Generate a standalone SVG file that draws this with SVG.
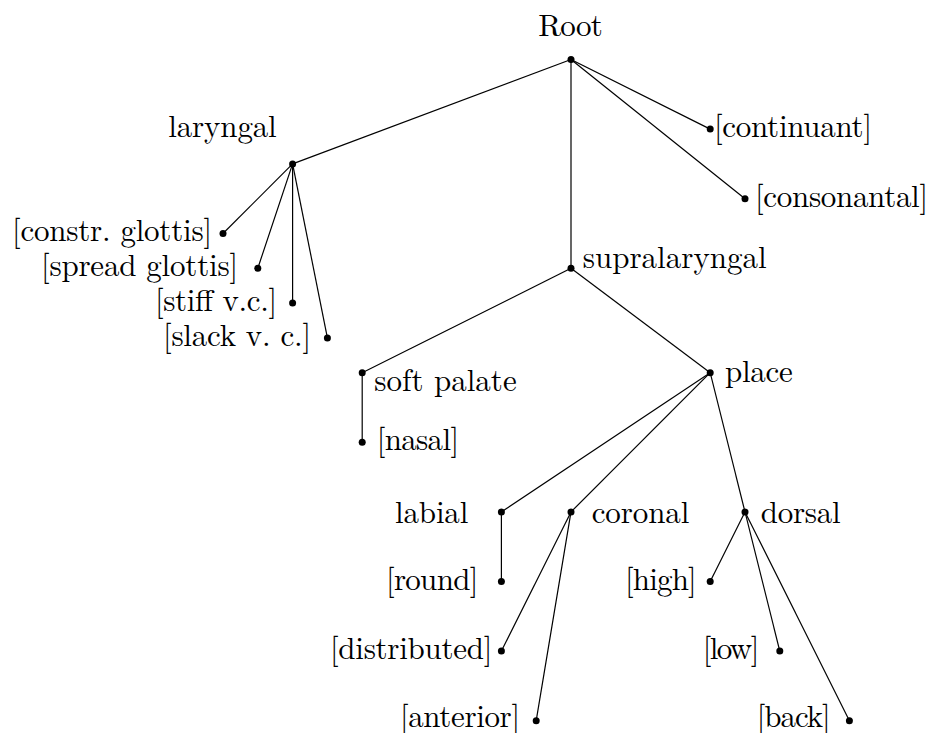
<svg xmlns="http://www.w3.org/2000/svg" width="931" height="733" viewBox="0 0 931 733">
<style>
  .lbl { font-family: 'Latin Modern Roman', 'CMU Serif', 'Computer Modern', 'TeX Gyre Termes', 'Nimbus Roman', 'FreeSerif', 'Noto Serif', 'Liberation Serif', 'DejaVu Serif', 'Times New Roman', serif; font-size: 31px; fill: #000; }
  .dot { fill: #000; }
  #edges line { stroke: #000; stroke-width: 1.2; }
</style>
<rect width="931" height="733" fill="#fff"/>
<g id="edges">
  <line x1="571" y1="59.5" x2="292.6" y2="163.9"/>
  <line x1="571" y1="59.5" x2="571" y2="268.3"/>
  <line x1="571" y1="59.5" x2="710.2" y2="129.1"/>
  <line x1="571" y1="59.5" x2="745" y2="198.7"/>
  <line x1="292.6" y1="163.9" x2="223" y2="233.5"/>
  <line x1="292.6" y1="163.9" x2="257.8" y2="268.3"/>
  <line x1="292.6" y1="163.9" x2="292.6" y2="303.1"/>
  <line x1="292.6" y1="163.9" x2="327.4" y2="337.9"/>
  <line x1="571" y1="268.3" x2="362.2" y2="372.7"/>
  <line x1="571" y1="268.3" x2="710.2" y2="372.7"/>
  <line x1="362.2" y1="372.7" x2="362.2" y2="442.3"/>
  <line x1="710.2" y1="372.7" x2="501.4" y2="511.9"/>
  <line x1="710.2" y1="372.7" x2="571" y2="511.9"/>
  <line x1="710.2" y1="372.7" x2="745" y2="511.9"/>
  <line x1="501.4" y1="511.9" x2="501.4" y2="581.5"/>
  <line x1="571" y1="511.9" x2="501.4" y2="651.1"/>
  <line x1="571" y1="511.9" x2="536.2" y2="720.7"/>
  <line x1="745" y1="511.9" x2="710.2" y2="581.5"/>
  <line x1="745" y1="511.9" x2="779.8" y2="651.1"/>
  <line x1="745" y1="511.9" x2="849.4" y2="720.7"/>
</g>
<g id="root"><circle class="dot" cx="571" cy="59.5" r="3.5"/><text class="lbl" x="538.3" y="36" textLength="64.4">Root</text></g>
<g id="laryngal"><circle class="dot" cx="292.6" cy="163.9" r="3.5"/><text class="lbl" x="168.3" y="137.3" textLength="108.4">laryngal</text></g>
<g id="constr-glottis"><circle class="dot" cx="223" cy="233.5" r="3.5"/><text class="lbl" x="12" y="241" textLength="200">[constr. glottis]</text></g>
<g id="spread-glottis"><circle class="dot" cx="257.8" cy="268.3" r="3.5"/><text class="lbl" x="41" y="276" textLength="197">[spread glottis]</text></g>
<g id="stiff-vc"><circle class="dot" cx="292.6" cy="303.1" r="3.5"/><text class="lbl" x="155" y="311" textLength="122">[stiff v.c.]</text></g>
<g id="slack-vc"><circle class="dot" cx="327.4" cy="337.9" r="3.5"/><text class="lbl" x="163" y="346" textLength="148">[slack v. c.]</text></g>
<g id="continuant"><circle class="dot" cx="710.2" cy="129.1" r="3.5"/><text class="lbl" x="714" y="136.7" textLength="158">[continuant]</text></g>
<g id="consonantal"><circle class="dot" cx="745" cy="198.7" r="3.5"/><text class="lbl" x="755" y="206.7" textLength="173">[consonantal]</text></g>
<g id="supralaryngal"><circle class="dot" cx="571" cy="268.3" r="3.5"/><text class="lbl" x="582.7" y="268.3" textLength="184">supralaryngal</text></g>
<g id="soft-palate"><circle class="dot" cx="362.2" cy="372.7" r="3.5"/><text class="lbl" x="374.3" y="391" textLength="142.4">soft palate</text></g>
<g id="nasal"><circle class="dot" cx="362.2" cy="442.3" r="3.5"/><text class="lbl" x="376.7" y="450.3" textLength="82.3">[nasal]</text></g>
<g id="place"><circle class="dot" cx="710.2" cy="372.7" r="3.5"/><text class="lbl" x="725" y="381.7" textLength="67.7">place</text></g>
<g id="labial"><circle class="dot" cx="501.4" cy="511.9" r="3.5"/><text class="lbl" x="395" y="522.7" textLength="73.3">labial</text></g>
<g id="coronal"><circle class="dot" cx="571" cy="511.9" r="3.5"/><text class="lbl" x="591.7" y="522.7" textLength="97.6">coronal</text></g>
<g id="dorsal"><circle class="dot" cx="745" cy="511.9" r="3.5"/><text class="lbl" x="760.7" y="522.7" textLength="80">dorsal</text></g>
<g id="round"><circle class="dot" cx="501.4" cy="581.5" r="3.5"/><text class="lbl" x="386" y="590" textLength="92.3">[round]</text></g>
<g id="distributed"><circle class="dot" cx="501.4" cy="651.1" r="3.5"/><text class="lbl" x="330" y="659" textLength="162.3">[distributed]</text></g>
<g id="anterior"><circle class="dot" cx="536.2" cy="720.7" r="3.5"/><text class="lbl" x="400" y="727" textLength="120">[anterior]</text></g>
<g id="high"><circle class="dot" cx="710.2" cy="581.5" r="3.5"/><text class="lbl" x="625" y="590" textLength="71.7">[high]</text></g>
<g id="low"><circle class="dot" cx="779.8" cy="651.1" r="3.5"/><text class="lbl" x="702.7" y="659" textLength="56.6">[low]</text></g>
<g id="back"><circle class="dot" cx="849.4" cy="720.7" r="3.5"/><text class="lbl" x="756.7" y="727" textLength="74">[back]</text></g>
</svg>
